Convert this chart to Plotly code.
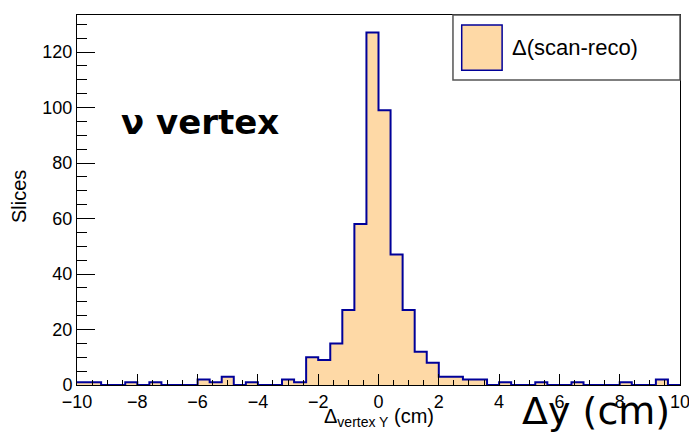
import plotly.graph_objects as go

# Histogram of the vertex Y difference (scan - reco), 50 bins of 0.4 cm on [-10, 10]
bin_lo = -10.0
bin_width = 0.4
counts = [
    1, 1, 0, 0, 1, 0, 1, 0, 0, 0,
    2, 1, 3, 0, 1, 0, 0, 2, 1, 10,
    9, 15, 27, 58, 127, 99, 47, 27, 12, 8,
    3, 3, 2, 2, 0, 1, 0, 0, 1, 0,
    0, 1, 0, 0, 0, 1, 0, 0, 2, 0,
]
x_ticks = [-10, -8, -6, -4, -2, 0, 2, 4, 6, 8, 10]
y_ticks = [0, 20, 40, 60, 80, 100, 120]

legend_label = "Δ(scan-reco)"
fill_color = "#FED9A6"
line_color = "#000099"

edges = [bin_lo + bin_width * i for i in range(len(counts) + 1)]
step_y = counts + [counts[-1]]

fig = go.Figure()
fig.add_trace(go.Scatter(
    x=edges, y=step_y,
    mode="lines", line=dict(shape="hv", color=line_color, width=2),
    fill="tozeroy", fillcolor=fill_color,
    showlegend=False, hoverinfo="skip",
))

ymax = max(counts) * 1.05
sans = "Liberation Sans, Arial, sans-serif"
comic = "DejaVu Sans, sans-serif"
tick_font = dict(family=sans, size=18, color="black")

fig.update_layout(
    width=689, height=434,
    margin=dict(l=77, r=9, t=15, b=49, autoexpand=False),
    paper_bgcolor="white", plot_bgcolor="white",
    showlegend=False,
    xaxis=dict(
        range=[edges[0], edges[-1]],
        tickvals=x_ticks, ticktext=[str(v).replace("-", "−") for v in x_ticks],
        ticks="inside", ticklen=11, tickcolor="black", tickwidth=1,
        minor=dict(dtick=0.5, ticks="inside", ticklen=5, tickcolor="black"),
        showline=True, linecolor="black", linewidth=1, mirror=True,
        showgrid=False, zeroline=False, tickfont=tick_font,
        ticklabeloverflow="allow", automargin=False,
    ),
    yaxis=dict(
        range=[0, ymax],
        tickvals=y_ticks,
        ticks="inside", ticklen=18, tickcolor="black", tickwidth=1,
        minor=dict(dtick=5, ticks="inside", ticklen=10, tickcolor="black"),
        showline=True, linecolor="black", linewidth=1, mirror=True,
        showgrid=False, zeroline=False, tickfont=tick_font, automargin=False,
    ),
)

# axis titles
fig.add_annotation(
    xref="paper", yref="paper", x=0.5, y=-0.088, xanchor="center", yanchor="middle",
    text="Δ<sub>vertex Y</sub> (cm)", showarrow=False,
    font=dict(family=sans, size=20, color="black"),
)
fig.add_annotation(
    xref="paper", yref="paper", x=-0.095, y=0.51, xanchor="center", yanchor="middle",
    text="Slices", textangle=-90, showarrow=False,
    font=dict(family=sans, size=20, color="black"),
)

# free-floating labels
fig.add_annotation(
    xref="paper", yref="paper", x=0.204, y=0.71, xanchor="center", yanchor="middle",
    text="<b>ν vertex</b>", showarrow=False,
    font=dict(family=comic, size=34, color="black"),
)
fig.add_annotation(
    xref="paper", yref="paper", x=0.86, y=-0.07, xanchor="center", yanchor="middle",
    text="Δy (cm)", showarrow=False,
    font=dict(family=comic, size=38, color="black"),
)

# legend box
fig.add_shape(type="rect", xref="paper", yref="paper", x0=0.6235, x1=1.0, y0=0.824, y1=1.0,
              line=dict(color="#555555", width=1.5), fillcolor="white", layer="above")
fig.add_shape(type="rect", xref="paper", yref="paper", x0=0.638, x1=0.705, y0=0.851, y1=0.973,
              line=dict(color=line_color, width=1.5), fillcolor=fill_color, layer="above")
fig.add_annotation(
    xref="paper", yref="paper", x=0.718, y=0.911, xanchor="left", yanchor="middle",
    text=legend_label, showarrow=False,
    font=dict(family=sans, size=22, color="black"),
)

fig.write_html("out.html")
